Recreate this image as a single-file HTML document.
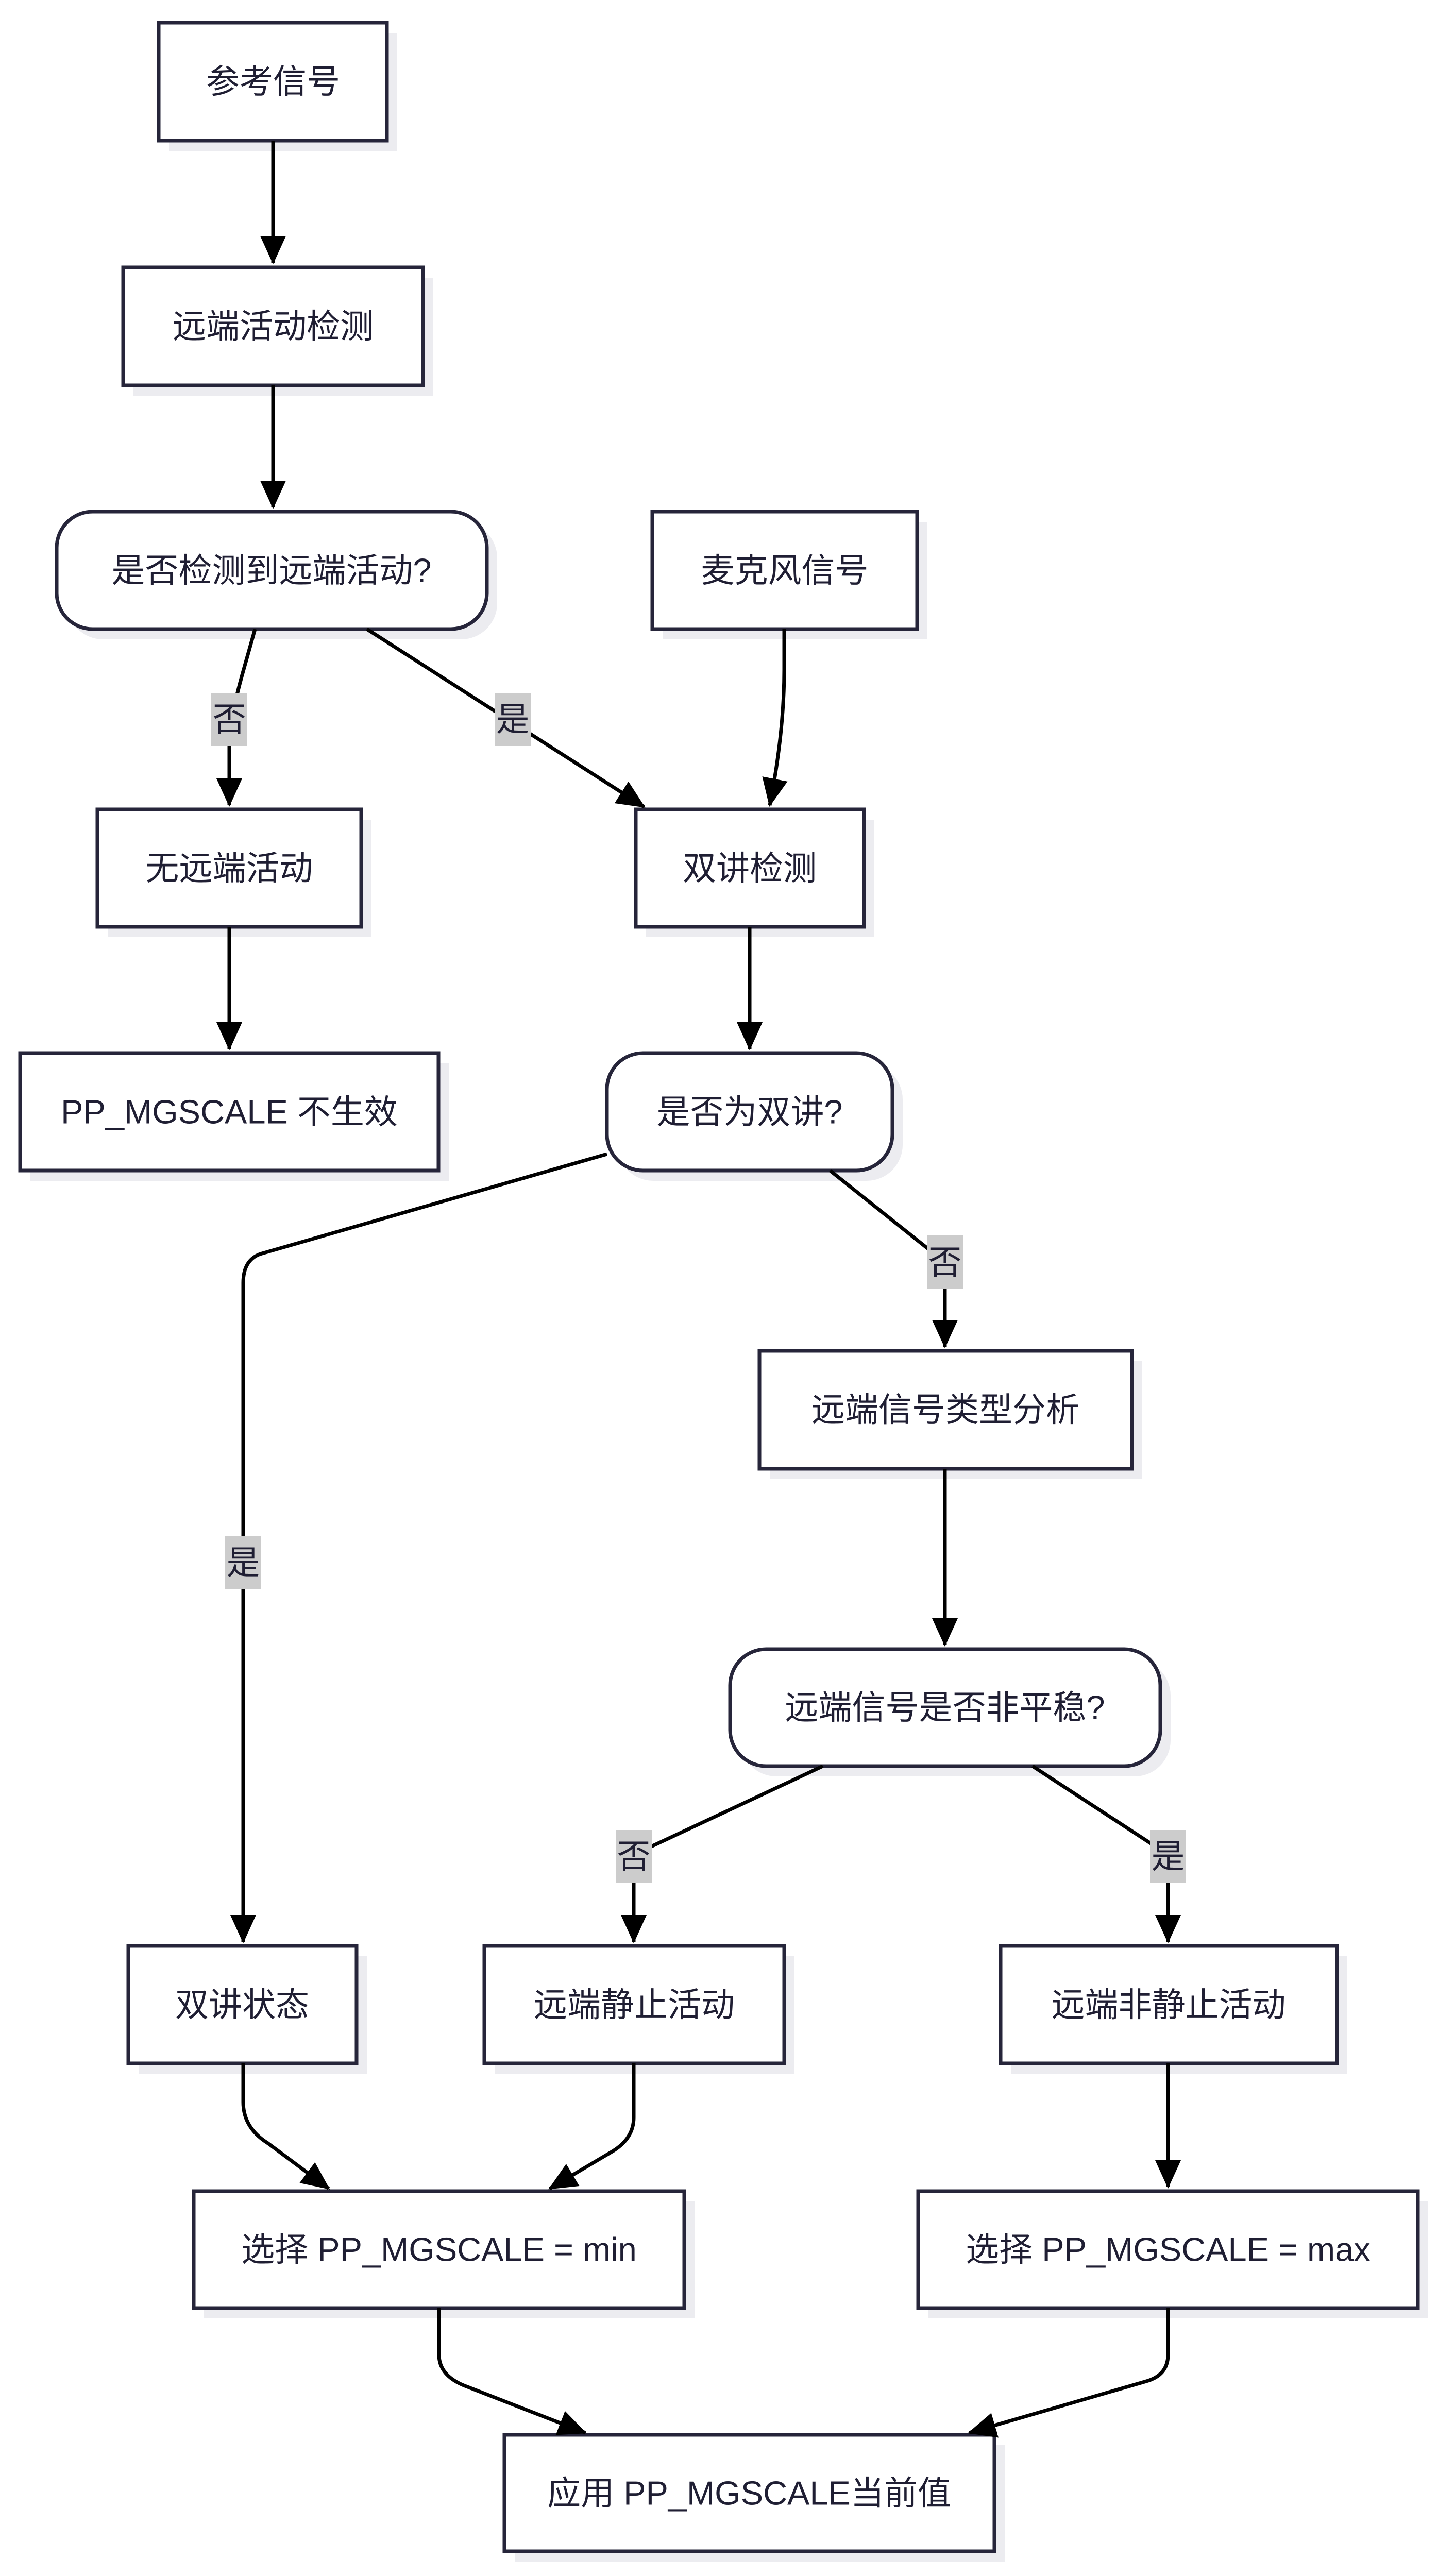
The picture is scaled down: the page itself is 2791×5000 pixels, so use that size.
<!DOCTYPE html>
<html><head><meta charset="utf-8">
<style>
html,body{margin:0;padding:0;background:#fff;}
svg{display:block;}
text{font-family:"Liberation Sans","Noto Sans CJK SC",sans-serif;fill:#1f1e33;}
</style></head>
<body>
<svg width="2791" height="5000" viewBox="0 0 2791 5000" xmlns="http://www.w3.org/2000/svg">
<defs>
<marker id="a" markerUnits="userSpaceOnUse" markerWidth="60" markerHeight="60" refX="52" refY="25" orient="auto">
<path d="M0,0 L55,25 L0,50 z" fill="#000"/>
</marker>
</defs>
<g fill="#ececf0">
<rect x="328" y="64" width="443" height="229"/>
<rect x="259" y="539" width="582" height="229"/>
<rect x="130" y="1013" width="835" height="228" rx="70"/>
<rect x="1286" y="1013" width="514" height="228"/>
<rect x="209" y="1591" width="512" height="228"/>
<rect x="1254" y="1591" width="443" height="228"/>
<rect x="59" y="2064" width="812" height="228"/>
<rect x="1198" y="2064" width="554" height="228" rx="70"/>
<rect x="1494" y="2642" width="723" height="229"/>
<rect x="1437" y="3221" width="835" height="227" rx="70"/>
<rect x="269" y="3797" width="443" height="228"/>
<rect x="960" y="3797" width="582" height="228"/>
<rect x="1962" y="3797" width="653" height="228"/>
<rect x="396" y="4273" width="952" height="227"/>
<rect x="1802" y="4273" width="970" height="227"/>
<rect x="999" y="4746" width="951" height="226"/>
</g>
<g fill="#fff" stroke="#26253a" stroke-width="7">
<rect x="308" y="44" width="443" height="229"/>
<rect x="239" y="519" width="582" height="229"/>
<rect x="110" y="993" width="835" height="228" rx="70"/>
<rect x="1266" y="993" width="514" height="228"/>
<rect x="189" y="1571" width="512" height="228"/>
<rect x="1234" y="1571" width="443" height="228"/>
<rect x="39" y="2044" width="812" height="228"/>
<rect x="1178" y="2044" width="554" height="228" rx="70"/>
<rect x="1474" y="2622" width="723" height="229"/>
<rect x="1417" y="3201" width="835" height="227" rx="70"/>
<rect x="249" y="3777" width="443" height="228"/>
<rect x="940" y="3777" width="582" height="228"/>
<rect x="1942" y="3777" width="653" height="228"/>
<rect x="376" y="4253" width="952" height="227"/>
<rect x="1782" y="4253" width="970" height="227"/>
<rect x="979" y="4726" width="951" height="226"/>
</g>
<g fill="none" stroke="#000" stroke-width="7" marker-end="url(#a)">
<path d="M530,273 L530,510"/>
<path d="M530,748 L530,985"/>
<path d="M495,1221 L470,1310 Q445,1400 445,1450 L445,1563"/>
<path d="M712,1221 L1250,1566"/>
<path d="M1522,1221 L1522,1300 Q1522,1420 1494,1563"/>
<path d="M445,1799 L445,2036"/>
<path d="M1455,1799 L1455,2036"/>
<path d="M1178,2240 L505,2434 Q472,2446 472,2490 L472,3769"/>
<path d="M1611,2272 L1834,2450 L1834,2614"/>
<path d="M1834,2851 L1834,3193"/>
<path d="M1597,3428 L1230,3600 L1230,3769"/>
<path d="M2004,3428 L2267,3600 L2267,3769"/>
<path d="M472,4005 L472,4080 Q472,4130 520,4160 L638,4248"/>
<path d="M1230,4005 L1230,4110 Q1230,4150 1190,4175 L1067,4248"/>
<path d="M2267,4005 L2267,4245"/>
<path d="M852,4480 L852,4570 Q852,4610 900,4630 L1136,4722"/>
<path d="M2267,4480 L2267,4570 Q2267,4610 2225,4622 L1881,4722"/>
</g>
<g fill="#cccccc">
<rect x="410" y="1345" width="70" height="103"/>
<rect x="960" y="1345" width="71" height="103"/>
<rect x="1800" y="2398" width="69" height="103"/>
<rect x="436" y="2982" width="71" height="103"/>
<rect x="1195" y="3552" width="70" height="103"/>
<rect x="2232" y="3552" width="70" height="103"/>
</g>
<g font-size="65" text-anchor="middle" dominant-baseline="central">
<text x="445" y="1396">否</text>
<text x="995" y="1396">是</text>
<text x="1834" y="2450">否</text>
<text x="472" y="3033">是</text>
<text x="1230" y="3603">否</text>
<text x="2267" y="3603">是</text>
<text x="530" y="158">参考信号</text>
<text x="530" y="633">远端活动检测</text>
<text x="527" y="1107">是否检测到远端活动?</text>
<text x="1523" y="1107">麦克风信号</text>
<text x="445" y="1685">无远端活动</text>
<text x="1455" y="1685">双讲检测</text>
<text x="445" y="2158">PP_MGSCALE 不生效</text>
<text x="1455" y="2158">是否为双讲?</text>
<text x="1835" y="2736">远端信号类型分析</text>
<text x="1834" y="3314">远端信号是否非平稳?</text>
<text x="470" y="3891">双讲状态</text>
<text x="1231" y="3891">远端静止活动</text>
<text x="2268" y="3891">远端非静止活动</text>
<text x="852" y="4366">选择 PP_MGSCALE = min</text>
<text x="2267" y="4366">选择 PP_MGSCALE = max</text>
<text x="1454" y="4839">应用 PP_MGSCALE当前值</text>
</g>
</svg>
</body></html>
